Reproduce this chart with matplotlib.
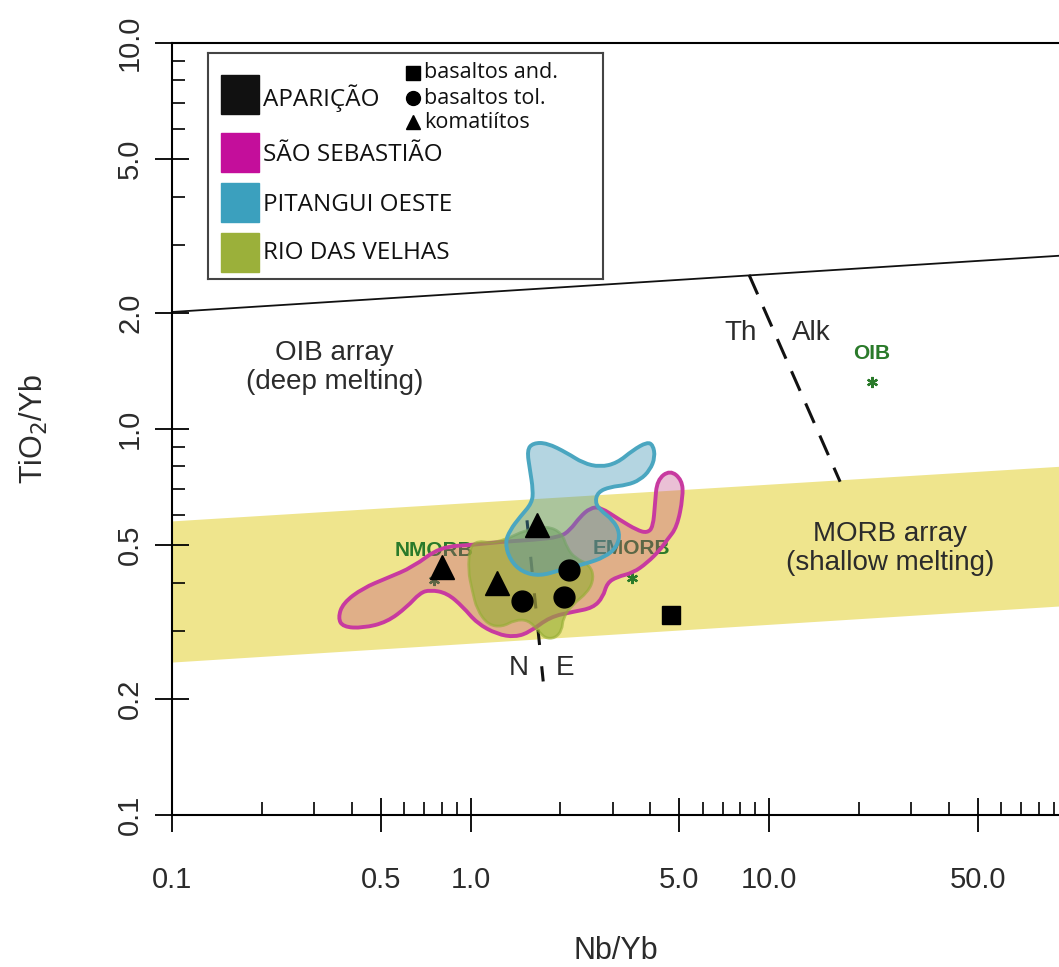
import matplotlib
matplotlib.use("Agg")
import numpy as np
import matplotlib.pyplot as plt
from matplotlib.patches import PathPatch, Rectangle
from matplotlib.path import Path

# =========================
# DATOS
# =========================
x_major = [0.1, 0.5, 1.0, 5.0, 10.0, 50.0]
x_major_labels = ["0.1", "0.5", "1.0", "5.0", "10.0", "50.0"]
x_minor = [0.2, 0.3, 0.4, 0.6, 0.7, 0.8, 0.9, 2, 3, 4, 6, 7, 8, 9, 20, 30, 40, 60, 70, 80, 90]
y_major = [0.1, 0.2, 0.5, 1.0, 2.0, 5.0, 10.0]
y_major_labels = ["0.1", "0.2", "0.5", "1.0", "2.0", "5.0", "10.0"]
y_minor = [0.3, 0.4, 0.6, 0.7, 0.8, 0.9, 3, 4, 6, 7, 8, 9]

# limite superior OIB
oib_line_x = [0.1, 100]
oib_line_y = [2.01, 2.82]

# banda MORB
morb_x = [0.1, 100]
morb_top = [0.578, 0.803]
morb_bottom = [0.249, 0.349]

# divisorias
th_alk_x = [8.57, 17.3]
th_alk_y = [2.51, 0.73]
n_e_x = [1.546, 1.777]
n_e_y = [0.58, 0.199]

# componentes de referencia
ref_names = ["NMORB", "EMORB", "OIB"]
ref_x = [0.755, 3.47, 22.1]
ref_y = [0.406, 0.411, 1.32]

# APARICAO
kom_x = [1.67, 0.803, 1.227]
kom_y = [0.563, 0.439, 0.399]
tol_x = [2.14, 1.488, 2.06]
tol_y = [0.431, 0.3585, 0.367]
and_x = [4.70]
and_y = [0.33]

# campos
sao_sebastiao_x = [0.360, 0.374, 0.436, 0.525, 0.642, 0.790, 1.019, 1.256, 1.620, 1.994,
                   2.154, 2.327, 2.514, 2.716, 3.168, 3.613, 3.903, 4.087, 4.151, 4.216,
                   4.659, 5.111, 5.151, 4.918, 4.553, 4.314, 3.903, 3.503, 3.096, 2.866,
                   2.779, 2.573, 2.205, 1.846, 1.582, 1.410, 1.227, 1.051, 0.944, 0.834,
                   0.732, 0.677, 0.613, 0.525, 0.436, 0.374]
sao_sebastiao_y = [0.324, 0.354, 0.387, 0.411, 0.439, 0.495, 0.501, 0.510, 0.516, 0.525,
                   0.547, 0.592, 0.624, 0.628, 0.581, 0.547, 0.538, 0.557, 0.643, 0.738,
                   0.783, 0.738, 0.667, 0.557, 0.516, 0.486, 0.450, 0.424, 0.414, 0.399,
                   0.367, 0.344, 0.336, 0.326, 0.298, 0.289, 0.294, 0.314, 0.346, 0.376,
                   0.383, 0.376, 0.346, 0.316, 0.305, 0.307]

pitangui_x = [1.546, 1.620, 1.804, 2.105, 2.382, 2.716, 3.096, 3.503, 3.903, 4.087, 4.151,
              3.994, 3.697, 3.345, 2.934, 2.674, 2.613, 2.716, 3.002, 3.168, 3.096, 2.822,
              2.419, 1.994, 1.710, 1.488, 1.356, 1.305, 1.356, 1.465, 1.607, 1.620, 1.582]
pitangui_y = [0.882, 0.920, 0.920, 0.867, 0.816, 0.797, 0.816, 0.882, 0.925, 0.909, 0.846,
              0.783, 0.738, 0.716, 0.708, 0.687, 0.647, 0.617, 0.581, 0.538, 0.495, 0.466,
              0.447, 0.431, 0.416, 0.426, 0.458, 0.507, 0.547, 0.592, 0.643, 0.695, 0.783]

rio_velhas_x = [0.996, 1.060, 1.162, 1.305, 1.522, 1.804, 2.025, 2.105, 2.239, 2.514, 2.593,
                2.475, 2.188, 2.041, 2.025, 1.919, 1.777, 1.683, 1.558, 1.410, 1.275, 1.145,
                1.051, 1.012, 0.981]
rio_velhas_y = [0.495, 0.513, 0.507, 0.516, 0.547, 0.561, 0.538, 0.492, 0.463, 0.444, 0.411,
                0.378, 0.350, 0.324, 0.301, 0.287, 0.287, 0.301, 0.320, 0.320, 0.307, 0.311,
                0.340, 0.383, 0.431]


def smooth_blob(xs, ys):
    # contorno cerrado suavizado con curvas cuadraticas (puntos medios en escala log)
    lx, ly = np.log10(xs), np.log10(ys)
    n = len(lx)
    mx = (lx + np.roll(lx, -1)) / 2
    my = (ly + np.roll(ly, -1)) / 2
    verts = [(10 ** mx[-1], 10 ** my[-1])]
    codes = [Path.MOVETO]
    for i in range(n):
        verts += [(xs[i], ys[i]), (10 ** mx[i], 10 ** my[i])]
        codes += [Path.CURVE3, Path.CURVE3]
    verts.append(verts[0])
    codes.append(Path.CLOSEPOLY)
    return Path(verts, codes)


# =========================
# FIGURA
# =========================
plt.rcParams['font.family'] = ['Liberation Sans', 'DejaVu Sans']

fig = plt.figure(figsize=(10.59, 9.67), dpi=100)
ax = fig.add_axes([0.1624, 0.1572, 0.8376, 0.7983])
ax.set_xscale("log")
ax.set_yscale("log")
ax.set_xlim(0.1, 93.6)
ax.set_ylim(0.1, 10.0)

txt = "#2b2b2b"
green_txt = "#2a7a2a"

ax.fill_between(morb_x, morb_bottom, morb_top, color="#efe58d", lw=0, zorder=1)
ax.plot(oib_line_x, oib_line_y, color="#111111", lw=1.3, zorder=2)
ax.plot(th_alk_x, th_alk_y, color="#111111", lw=2.2, dashes=(7, 4.5), zorder=2)
ax.plot(n_e_x, n_e_y, color="#111111", lw=2.2, dashes=(5, 7), zorder=2)

ax.text(0.35, 1.44, "OIB array\n(deep melting)", ha="center", va="center", fontsize=20,
        color=txt, linespacing=1.15, zorder=3)
ax.text(25.4, 0.49, "MORB array\n(shallow melting)", ha="center", va="center", fontsize=20,
        color=txt, linespacing=1.15, zorder=3)
ax.text(8.05, 1.77, "Th", ha="center", va="center", fontsize=20, color=txt, zorder=3)
ax.text(13.9, 1.77, "Alk", ha="center", va="center", fontsize=20, color=txt, zorder=3)
ax.text(1.45, 0.241, "N", ha="center", va="center", fontsize=20, color=txt, zorder=3)
ax.text(2.07, 0.241, "E", ha="center", va="center", fontsize=20, color=txt, zorder=3)

ax.plot(ref_x, ref_y, ls="none", marker=(6, 2, 0), ms=8, mew=1.6, color=green_txt, zorder=3)
for name, xv, yv in zip(ref_names, ref_x, ref_y):
    ax.text(xv, yv * 1.19, name, ha="center", va="center", fontsize=15, fontweight="bold",
            color=green_txt, zorder=3)

# campos
ax.add_patch(PathPatch(smooth_blob(sao_sebastiao_x, sao_sebastiao_y),
                       facecolor=(0.76, 0.26, 0.50, 0.33), edgecolor="#c83aa0", lw=2.8,
                       zorder=4))
ax.add_patch(PathPatch(smooth_blob(rio_velhas_x, rio_velhas_y),
                       facecolor=(0.58, 0.68, 0.20, 0.62), edgecolor=(0.58, 0.68, 0.20, 0.62),
                       lw=2, zorder=5))
ax.add_patch(PathPatch(smooth_blob(pitangui_x, pitangui_y),
                       facecolor=(0.27, 0.59, 0.71, 0.4), edgecolor="#4aa6c0", lw=2.8,
                       zorder=6))

ax.plot(kom_x, kom_y, ls="none", marker="^", ms=17, color="black", zorder=7)
ax.plot(tol_x, tol_y, ls="none", marker="o", ms=15, color="black", zorder=7)
ax.plot(and_x, and_y, ls="none", marker="s", ms=13, color="black", zorder=7)

# ejes
ax.spines["right"].set_visible(False)
for s in ["left", "bottom", "top"]:
    ax.spines[s].set_linewidth(1.5)
ax.set_xticks(x_major)
ax.set_xticklabels(x_major_labels)
ax.set_xticks(x_minor, minor=True)
ax.set_xticklabels([], minor=True)
ax.set_yticks(y_major)
ax.set_yticklabels(y_major_labels, rotation=90, va="center")
ax.set_yticks(y_minor, minor=True)
ax.set_yticklabels([], minor=True)
ax.tick_params(which="major", direction="inout", length=24, width=1.3, labelsize=21,
               labelcolor=txt, top=False, right=False)
ax.tick_params(axis="x", which="major", pad=25)
ax.tick_params(axis="y", which="major", pad=8)
ax.tick_params(which="minor", direction="in", length=9.5, width=1.2, top=False, right=False)

ax.set_xlabel("Nb/Yb", fontsize=22, color=txt, labelpad=30)
ax.set_ylabel("TiO$_2$/Yb", fontsize=22, color=txt, labelpad=48)

# =========================
# LEYENDA
# =========================
leg = fig.add_axes([208 / 1059, 1 - 279 / 967, 395 / 1059, 226 / 967])
leg.set_xlim(0, 395)
leg.set_ylim(226, 0)
leg.set_xticks([])
leg.set_yticks([])
for s in leg.spines.values():
    s.set_color("#444444")
    s.set_linewidth(1.5)

groups = ["APARIÇÃO", "SÃO SEBASTIÃO", "PITANGUI OESTE", "RIO DAS VELHAS"]
group_colors = ["#111111", "#c40e9b", "#3ba0be", "#9bb03a"]
box_top = [22, 80, 130, 180]
label_y = [45, 102, 152, 200]
for g, c, bt, ly in zip(groups, group_colors, box_top, label_y):
    leg.add_patch(Rectangle((13, bt), 38, 39, color=c))
    leg.text(55, ly, g, fontsize=17.5, va="center", ha="left", color="#111111",
             family=["Open Sans", "DejaVu Sans"])

rock_names = ["basaltos and.", "basaltos tol.", "komatiítos"]
rock_markers = ["s", "o", "^"]
rock_y = [20, 45, 69]
for r, m, ry in zip(rock_names, rock_markers, rock_y):
    leg.plot([205], [ry], marker=m, ms=10, color="black", ls="none")
    leg.text(216, ry, r, fontsize=15.5, va="center", ha="left", color="#111111",
             family=["Open Sans", "DejaVu Sans"])

fig.savefig("out.png", dpi=100)
